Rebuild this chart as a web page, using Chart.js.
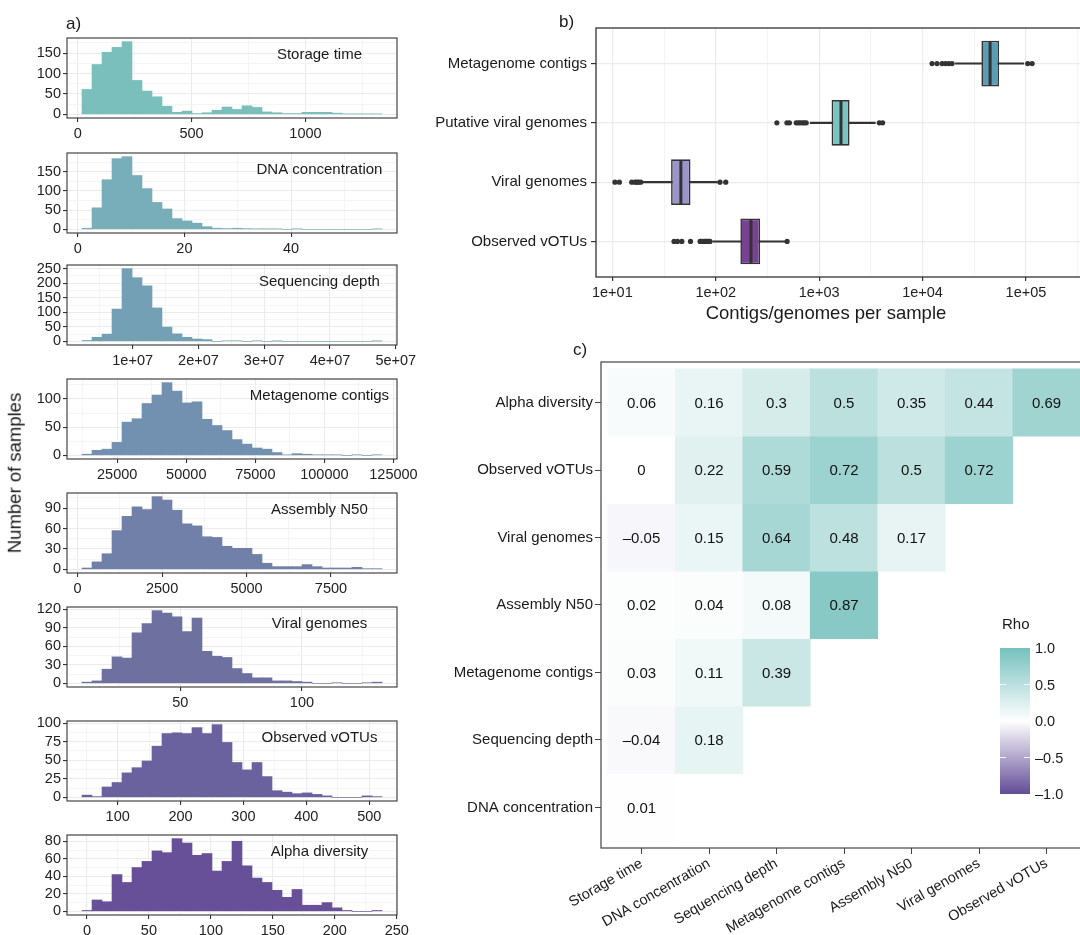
<!DOCTYPE html>
<html>
<head>
<meta charset="utf-8">
<script src="https://cdn.jsdelivr.net/npm/chart.js@4.4.1/dist/chart.umd.min.js"></script>
<style>
  html, body { margin: 0; padding: 0; background: #fff; overflow: hidden; }
  body { width: 1080px; height: 935px; position: relative; font-family: "Liberation Sans", Arial, Helvetica, sans-serif; color: #1a1a1a; }
  canvas { position: absolute; }
  .txt { position: absolute; white-space: nowrap; line-height: 1; }
</style>
</head>
<body>
<script>
// ---- panel a: histograms ----
const histTitles = ['Storage time', 'DNA concentration', 'Sequencing depth', 'Metagenome contigs',
  'Assembly N50', 'Viral genomes', 'Observed vOTUs', 'Alpha diversity'];
const storageCounts = [61, 122, 152, 164, 178, 83, 57, 43, 20, 5, 8, 2, 4, 10, 18, 12, 21, 17, 6, 4, 2, 2, 5, 5, 5, 3, 1, 1, 1, 1];
const dnaCounts = [3, 56, 129, 184, 189, 140, 106, 70, 53, 28, 22, 16, 7, 3, 2, 3, 2, 1, 1, 1, 0, 1, 0, 0, 0, 0, 0, 0, 0, 1];
const depthCounts = [3, 14, 25, 111, 250, 219, 191, 115, 49, 26, 14, 8, 6, 0, 2, 2, 0, 2, 0, 1, 0, 0, 0, 0, 0, 0, 0, 0, 0, 1];
const contigCounts = [2, 9, 11, 23, 59, 65, 92, 107, 129, 114, 93, 95, 64, 53, 44, 28, 20, 13, 11, 5, 1, 3, 2, 1, 1, 1, 0, 1, 0, 1];
const n50Counts = [2, 11, 23, 57, 78, 92, 88, 107, 102, 87, 67, 64, 48, 47, 34, 31, 31, 22, 9, 4, 4, 4, 7, 4, 2, 2, 2, 3, 1, 1];
const viralCounts = [2, 4, 23, 43, 41, 82, 97, 118, 114, 108, 84, 106, 52, 44, 42, 24, 16, 9, 9, 4, 4, 3, 2, 0, 0, 1, 0, 0, 1, 2];
const votuCounts = [3, 1, 14, 20, 33, 40, 49, 69, 86, 87, 86, 94, 86, 98, 74, 47, 37, 47, 28, 9, 7, 5, 6, 4, 2, 0, 0, 0, 2, 1];
const alphaCounts = [1, 13, 11, 42, 33, 50, 57, 69, 67, 83, 78, 64, 66, 46, 57, 80, 52, 38, 33, 24, 16, 25, 7, 7, 10, 4, 1, 0, 0, 1];
const histCounts = [storageCounts, dnaCounts, depthCounts, contigCounts, n50Counts, viralCounts, votuCounts, alphaCounts];
const histBinStart = [19, 0.8, 2.3e6, 12250, 130, 9.6, 43.3, -4];
const histBinWidth = [43.9, 1.875, 1.52e6, 3620, 296, 4.11, 15.9, 8.07];
const histXBreak = [500, 20, 1e7, 25000, 2500, 50, 100, 50];
const histYBreak = [50, 50, 50, 50, 30, 30, 25, 20];
const histColors = ['#7abfbc', '#78aeba', '#74a0b6', '#7290b0', '#7080a8', '#6e70a0', '#6a629e', '#685098'];

// ---- panel b: boxplots (bottom to top) ----
const boxCats = ['Observed vOTUs', 'Viral genomes', 'Putative viral genomes', 'Metagenome contigs'];
const boxQ1 = [173, 37, 1318, 37070];
const boxMed = [219, 46, 1626, 44980];
const boxQ3 = [269, 57, 1968, 54950];
const whiskLo = [94, 19.7, 820, 20800];
const whiskHi = [470, 104, 3490, 95300];
const votuOut = [39.5, 42.6, 47, 57, 70.6, 72, 75, 78, 80, 82, 84, 86, 88, 490];
const viralOut = [10.6, 11.7, 15.4, 16.6, 17.2, 17.9, 18.8, 110, 125];
const putativeOut = [390, 488, 516, 600, 630, 656, 690, 718, 750, 3820, 4110];
const contigOut = [12360, 13800, 15440, 16640, 17920, 19300, 104000, 114700];
const boxOutliers = [votuOut, viralOut, putativeOut, contigOut];
const boxColors = ['#774291', '#9b95c9', '#79c4c1', '#5b9db3'];
const logBreaks = [10, 100, 1000, 10000, 100000];
const logLabels = ['1e+01', '1e+02', '1e+03', '1e+04', '1e+05'];

// ---- panel c: correlation heatmap (rows bottom to top) ----
const heatRows = ['DNA concentration', 'Sequencing depth', 'Metagenome contigs', 'Assembly N50',
  'Viral genomes', 'Observed vOTUs', 'Alpha diversity'];
const heatCols = ['Storage time', 'DNA concentration', 'Sequencing depth', 'Metagenome contigs',
  'Assembly N50', 'Viral genomes', 'Observed vOTUs'];
const rhoDNA = [0.01];
const rhoDepth = [-0.04, 0.18];
const rhoContigs = [0.03, 0.11, 0.39];
const rhoN50 = [0.02, 0.04, 0.08, 0.87];
const rhoViral = [-0.05, 0.15, 0.64, 0.48, 0.17];
const rhoVotu = [0, 0.22, 0.59, 0.72, 0.5, 0.72];
const rhoAlpha = [0.06, 0.16, 0.3, 0.5, 0.35, 0.44, 0.69];
const rhoRows = [rhoDNA, rhoDepth, rhoContigs, rhoN50, rhoViral, rhoVotu, rhoAlpha];
const rhoTicks = [1.0, 0.5, 0.0, -0.5, -1.0];

const FONT = '"Liberation Sans", Arial, Helvetica, sans-serif';
Chart.defaults.font.family = FONT;
Chart.defaults.color = '#1a1a1a';
Chart.defaults.animation = false;
Chart.defaults.plugins.legend.display = false;
Chart.defaults.plugins.tooltip.enabled = false;

const GRID = '#ebebeb';
const GRID_MINOR = '#f3f3f3';
const NONE = 'rgba(0,0,0,0)';

function isMajor(v, step) {
    const r = v / step;
    return Math.abs(r - Math.round(r)) < 1e-6;
}
// pick a or b depending on whether the grid context's tick is a major break
function byTick(test, a, b) {
    return c => (c.tick && test(c.tick.value)) ? a : b;
}
// ticks at every multiple of step inside the scale range (no ticks at the bounds)
function stepTicks(step) {
    return s => {
        const out = [];
        const k0 = Math.ceil(s.min / step - 1e-9);
        const k1 = Math.floor(s.max / step + 1e-9);
        for (let k = k0; k <= k1; k++) out.push({ value: k * step });
        s.ticks = out;
    };
}
function addCanvas(left, top, w, h) {
    const c = document.createElement('canvas');
    c.width = w;
    c.height = h;
    c.style.left = left + 'px';
    c.style.top = top + 'px';
    c.style.width = w + 'px';
    c.style.height = h + 'px';
    document.body.appendChild(c);
    return c;
}
function addText(text, x, y, size, align, rotate) {
    const d = document.createElement('div');
    d.className = 'txt';
    d.textContent = text;
    d.style.left = x + 'px';
    d.style.top = y + 'px';
    d.style.fontSize = size + 'px';
    const tx = align === 'center' ? '-50%' : '0';
    d.style.transform = `translate(${tx}, -50%)` + (rotate ? ` rotate(${rotate}deg)` : '');
    document.body.appendChild(d);
    return d;
}

// frame around the plot area, plus optional corner title
const framePlugin = {
    id: 'frame',
    afterDraw(chart, args, opts) {
        const a = chart.chartArea;
        const ctx = chart.ctx;
        ctx.save();
        ctx.strokeStyle = opts.color || '#333';
        ctx.lineWidth = opts.width || 1.1;
        ctx.strokeRect(a.left, a.top, a.right - a.left, a.bottom - a.top);
        if (opts.title) {
            ctx.fillStyle = '#1a1a1a';
            ctx.font = '15px ' + FONT;
            ctx.textAlign = 'center';
            ctx.textBaseline = 'middle';
            ctx.fillText(opts.title, a.left + 0.765 * (a.right - a.left), a.top + 17);
        }
        ctx.restore();
    }
};

// ---------- panel a ----------
const histTop = [38, 153, 265, 379, 493, 607, 721, 835];
const histPlotH = 80;

function makeHist(i) {
    const counts = histCounts[i];
    const start = histBinStart[i];
    const w = histBinWidth[i];
    const span = w * counts.length;
    const points = counts.map((c, k) => ({ x: start + w * (k + 0.5), y: c }));
    const ymax = Math.max(...counts);
    const xStep = histXBreak[i];
    const yStep = histYBreak[i];
    const xMaj = v => isMajor(v, xStep);
    const yMaj = v => isMajor(v, yStep);
    const fmtX = v => i === 2 ? Math.round(v / 1e7) + 'e+07' : String(Math.round(v));
    const canvas = addCanvas(0, histTop[i] - 12, 430, 12 + histPlotH + 24);
    new Chart(canvas, {
        type: 'bar',
        data: {
            datasets: [{
                data: points,
                backgroundColor: histColors[i],
                borderWidth: 0,
                barPercentage: 1,
                categoryPercentage: 1
            }]
        },
        options: {
            responsive: false,
            layout: { padding: { top: 12, right: 33, left: 0, bottom: 0 } },
            plugins: { frame: { title: histTitles[i], color: '#333' } },
            scales: {
                x: {
                    type: 'linear',
                    min: start - 0.05 * span,
                    max: start + 1.05 * span,
                    offset: false,
                    border: { display: false },
                    afterBuildTicks: stepTicks(xStep / 2),
                    grid: {
                        offset: false,
                        color: byTick(xMaj, GRID, GRID_MINOR),
                        lineWidth: byTick(xMaj, 1.1, 0.8),
                        tickColor: byTick(xMaj, '#333', NONE),
                        tickLength: 4
                    },
                    ticks: {
                        autoSkip: false,
                        maxRotation: 0,
                        padding: 3,
                        color: '#222',
                        font: { size: 14.5 },
                        callback: v => xMaj(v) ? fmtX(v) : ''
                    },
                    afterFit: s => { s.height = 24; }
                },
                y: {
                    type: 'linear',
                    min: -0.05 * ymax,
                    max: 1.05 * ymax,
                    border: { display: false },
                    afterBuildTicks: stepTicks(yStep / 2),
                    grid: {
                        color: byTick(yMaj, GRID, GRID_MINOR),
                        lineWidth: byTick(yMaj, 1.1, 0.8),
                        tickColor: byTick(yMaj, '#333', NONE),
                        tickLength: 4
                    },
                    ticks: {
                        autoSkip: false,
                        padding: 2,
                        color: '#222',
                        font: { size: 14.5 },
                        callback: v => yMaj(v) ? String(Math.round(v)) : ''
                    },
                    afterFit: s => { s.width = 67; }
                }
            }
        },
        plugins: [framePlugin]
    });
}
histCounts.forEach((c, i) => makeHist(i));

addText('a)', 66, 23, 17, 'left');
addText('Number of samples', 15, 473, 18.5, 'center', -90);

// ---------- panel b ----------
const medianPlugin = {
    id: 'medians',
    afterDatasetsDraw(chart) {
        const meta = chart.getDatasetMeta(0);
        const xs = chart.scales.x;
        const ctx = chart.ctx;
        ctx.save();
        ctx.strokeStyle = '#333';
        ctx.lineWidth = 3;
        meta.data.forEach((el, k) => {
            const p = el.getProps(['y', 'height'], true);
            const x = xs.getPixelForValue(boxMed[k]);
            ctx.beginPath();
            ctx.moveTo(x, p.y - p.height / 2 + 1);
            ctx.lineTo(x, p.y + p.height / 2 - 1);
            ctx.stroke();
        });
        ctx.restore();
    }
};

const isDecade = v => logBreaks.some(b => Math.abs(b - v) / b < 1e-6);
const logTicks = [];
logBreaks.forEach((b, k) => {
    logTicks.push(b);
    logTicks.push(Math.sqrt(b * (logBreaks[k + 1] || b * 10)));
});

const boxCanvas = addCanvas(400, 15, 700, 12 + 250 + 25);
new Chart(boxCanvas, {
    type: 'bar',
    data: {
        datasets: [
            {
                data: boxCats.map((c, k) => ({ y: k + 1, x: [boxQ1[k], boxQ3[k]] })),
                backgroundColor: boxColors,
                borderColor: '#333',
                borderWidth: 1.6,
                borderSkipped: false,
                barPercentage: 0.77,
                categoryPercentage: 1,
                grouped: false
            },
            {
                data: boxCats.map((c, k) => ({ y: k + 1, x: [whiskLo[k], whiskHi[k]] })),
                backgroundColor: '#333',
                borderWidth: 0,
                barThickness: 1.4,
                grouped: false
            },
            {
                type: 'scatter',
                data: boxOutliers.flatMap((arr, k) => arr.map(v => ({ x: v, y: k + 1 }))),
                pointRadius: 2.6,
                pointBackgroundColor: '#333',
                pointBorderWidth: 0
            }
        ]
    },
    options: {
        responsive: false,
        indexAxis: 'y',
        layout: { padding: { top: 12, right: 12, left: 0, bottom: 0 } },
        plugins: { frame: { color: '#333', width: 1.3 } },
        scales: {
            x: {
                type: 'logarithmic',
                min: Math.pow(10, 0.842),
                max: Math.pow(10, 5.6),
                border: { display: false },
                afterBuildTicks: s => { s.ticks = logTicks.map(v => ({ value: v })); },
                grid: {
                    color: byTick(isDecade, GRID, GRID_MINOR),
                    lineWidth: byTick(isDecade, 1.2, 0.9),
                    tickColor: byTick(isDecade, '#333', NONE),
                    tickLength: 4
                },
                ticks: {
                    autoSkip: false,
                    maxRotation: 0,
                    padding: 3,
                    color: '#222',
                    font: { size: 14.5 },
                    callback: v => {
                        const k = logBreaks.findIndex(b => Math.abs(b - v) / b < 1e-6);
                        return k >= 0 ? logLabels[k] : '';
                    }
                },
                afterFit: s => { s.height = 25; }
            },
            y: {
                type: 'linear',
                min: 0.4,
                max: 4.6,
                offset: false,
                border: { display: false },
                afterBuildTicks: stepTicks(1),
                grid: {
                    offset: false,
                    color: GRID,
                    lineWidth: 1.2,
                    tickColor: '#333',
                    tickLength: 5
                },
                ticks: {
                    autoSkip: false,
                    padding: 4,
                    color: '#1a1a1a',
                    font: { size: 15 },
                    callback: v => boxCats[Math.round(v) - 1]
                },
                afterFit: s => { s.width = 196; }
            }
        }
    },
    plugins: [framePlugin, medianPlugin]
});

addText('b)', 559, 21, 17, 'left');
addText('Contigs/genomes per sample', 826, 313, 18.5, 'center');

// ---------- panel c ----------
const rhoHigh = [118, 193, 188];
const rhoLow = [97, 76, 150];
function rhoColor(v) {
    const end = v >= 0 ? rhoHigh : rhoLow;
    const t = Math.min(Math.abs(v), 1);
    const c = end.map(e => Math.round(255 + (e - 255) * t));
    return `rgb(${c[0]},${c[1]},${c[2]})`;
}
const fmtRho = v => String(v).replace('-', '\u2013');

const cells = [];
rhoRows.forEach((row, r) => {
    row.forEach((v, c) => cells.push({ x: c + 1, y: [r + 0.5, r + 1.5], v: v }));
});

const cellTextPlugin = {
    id: 'cellText',
    afterDatasetsDraw(chart) {
        const meta = chart.getDatasetMeta(0);
        const ctx = chart.ctx;
        ctx.save();
        ctx.fillStyle = '#111';
        ctx.font = '15px ' + FONT;
        ctx.textAlign = 'center';
        ctx.textBaseline = 'middle';
        meta.data.forEach((el, k) => {
            const p = el.getProps(['x', 'y', 'base'], true);
            ctx.fillText(fmtRho(cells[k].v), p.x, (p.y + p.base) / 2 + 1);
        });
        ctx.restore();
    }
};

const heatCanvas = addCanvas(400, 350, 700, 12 + 486 + 87);
new Chart(heatCanvas, {
    type: 'bar',
    data: {
        datasets: [{
            data: cells,
            backgroundColor: c => c.raw ? rhoColor(c.raw.v) : NONE,
            borderWidth: 0,
            barPercentage: 1,
            categoryPercentage: 1
        }]
    },
    options: {
        responsive: false,
        layout: { padding: { top: 12, right: 13, left: 0, bottom: 0 } },
        plugins: { frame: { color: '#444', width: 1.2 } },
        scales: {
            x: {
                type: 'linear',
                min: 0.4,
                max: 7.6,
                offset: false,
                border: { display: false },
                afterBuildTicks: stepTicks(1),
                grid: { offset: false, drawOnChartArea: false, tickColor: '#444', tickLength: 6 },
                ticks: {
                    autoSkip: false,
                    minRotation: 30,
                    maxRotation: 30,
                    padding: 1,
                    color: '#1a1a1a',
                    font: { size: 14.5 },
                    callback: v => heatCols[Math.round(v) - 1]
                },
                afterFit: s => { s.height = 87; }
            },
            y: {
                type: 'linear',
                min: 0.4,
                max: 7.6,
                border: { display: false },
                afterBuildTicks: stepTicks(1),
                grid: { drawOnChartArea: false, tickColor: '#444', tickLength: 6 },
                ticks: {
                    autoSkip: false,
                    padding: 2,
                    color: '#1a1a1a',
                    font: { size: 15 },
                    callback: v => heatRows[Math.round(v) - 1]
                },
                afterFit: s => { s.width = 201; }
            }
        }
    },
    plugins: [framePlugin, cellTextPlugin]
});

addText('c)', 573, 349, 17, 'left');

// colour bar legend
addText('Rho', 1002, 623, 15, 'left');
const bar = document.createElement('div');
bar.style.cssText = 'position:absolute;left:1000px;top:648px;width:30px;height:146px;background:linear-gradient(to bottom,'
    + rhoColor(1) + ',' + rhoColor(0.5) + ' 25%,#ffffff 50%,' + rhoColor(-0.5) + ' 75%,' + rhoColor(-1) + ')';
document.body.appendChild(bar);
rhoTicks.forEach(t => {
    const y = 648 + (1 - t) / 2 * 146;
    if (Math.abs(t) < 1) {
        ['1000px', '1024px'].forEach(lx => {
            const m = document.createElement('div');
            m.style.cssText = `position:absolute;left:${lx};top:${y - 0.5}px;width:6px;height:1px;background:rgba(255,255,255,0.9)`;
            document.body.appendChild(m);
        });
    }
    addText(t.toFixed(1).replace('-', '\u2013'), 1035, y, 14.5, 'left');
});
</script>
</body>
</html>
